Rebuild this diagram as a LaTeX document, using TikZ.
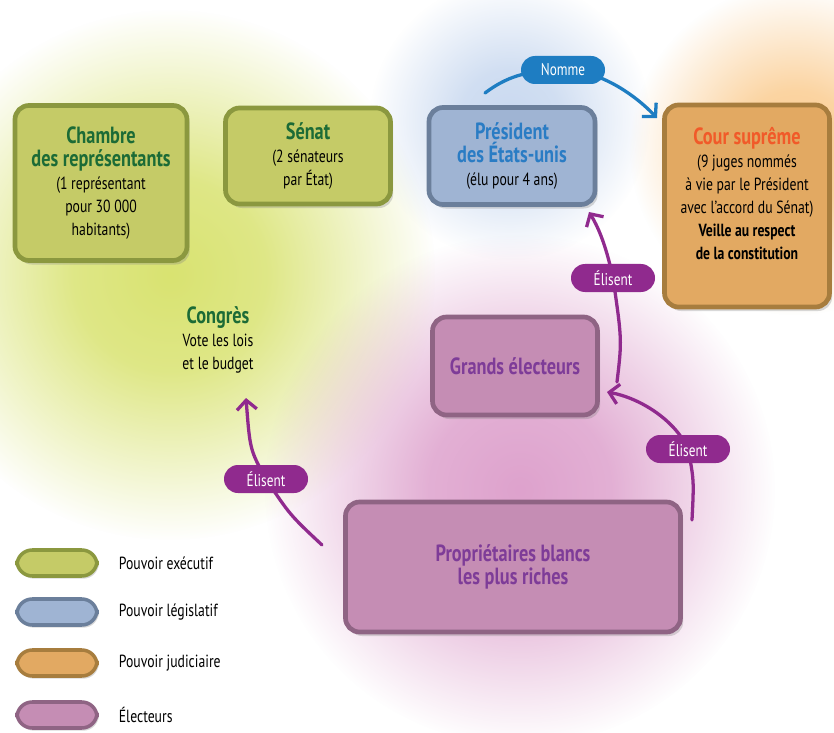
\documentclass[tikz,border=0pt]{standalone}
\usepackage{fontspec}
\setmainfont{PT Sans}[FakeStretch=0.78]
\usetikzlibrary{arrows.meta,positioning,shadows,fadings,shapes.misc}

\definecolor{vertface}{HTML}{C5CB67}
\definecolor{vertbord}{HTML}{8B983F}
\definecolor{verttitre}{HTML}{1C6B36}
\definecolor{bleuface}{HTML}{9FB4D3}
\definecolor{bleubord}{HTML}{6B7F9B}
\definecolor{bleutitre}{HTML}{2A7CC4}
\definecolor{orface}{HTML}{E2A962}
\definecolor{orbord}{HTML}{A77D3E}
\definecolor{ortitre}{HTML}{F15A29}
\definecolor{roseface}{HTML}{C58DB4}
\definecolor{rosebord}{HTML}{8F6484}
\definecolor{violet}{HTML}{7E3C98}
\definecolor{pilule}{HTML}{902A8E}
\definecolor{pilbleu}{HTML}{1E7DC2}
\definecolor{halovert}{HTML}{D9E371}
\definecolor{halobleu}{HTML}{C9D9F0}
\definecolor{haloor}{HTML}{FBCD92}
\definecolor{halorose}{HTML}{DEA2CD}

% halo: plein au centre, fondu vers le bord
\pgfdeclareradialshading{halosh}{\pgfpointorigin}{color(0bp)=(white); color(9bp)=(white!85!black);
  color(25bp)=(black); color(50bp)=(black)}
\pgfdeclarefading{halo}{\pgfuseshading{halosh}}

\newcommand\titre[2]{\textcolor{#1}{\fontsize{20}{20.5}\selectfont\bfseries #2}}

\begin{document}
\begin{tikzpicture}[
  x=0.03cm,y=-0.03cm,
  font=\fontsize{15}{19.5}\selectfont,
  box/.style={draw,rounded corners=12pt,line width=4pt,align=center,inner sep=0pt,
    drop shadow={shadow xshift=.8mm,shadow yshift=-1.2mm,opacity=.3}},
  vert/.style={box,fill=vertface,draw=vertbord},
  bleu/.style={box,fill=bleuface,draw=bleubord},
  orange/.style={box,fill=orface,draw=orbord},
  rose/.style={box,fill=roseface,draw=rosebord},
  legende/.style={rounded corners=13pt,line width=3pt,minimum width=2.4cm,minimum height=.78cm,
    drop shadow={shadow xshift=.5mm,shadow yshift=-.8mm,opacity=.3}},
  pill/.style={rounded rectangle,fill=pilule,text=white,minimum width=2.52cm,minimum height=.84cm,
    inner sep=0pt,font=\fontsize{14.5}{16}\selectfont},
  fleche/.style={draw=pilule,line width=2.8pt,line cap=round,-{Straight Barb[length=8pt,width=17pt]}}
]
\useasboundingbox (0,0) rectangle (834,733);
\clip (0,0) rectangle (834,733);
\fill[white] (0,0) rectangle (834,733);

% halos
\fill[halovert,path fading=halo] (170,275) circle (265);
\fill[halorose,path fading=halo] (520,490) circle (255);
\fill[halobleu,path fading=halo] (510,120) circle (140);
\fill[haloor,path fading=halo] (795,150) circle (165);

% boites
\node[vert,minimum width=5.16cm,minimum height=4.65cm] (chambre) at (101,183)
  {\titre{verttitre}{Chambre}\\\titre{verttitre}{des représentants}\\(1 représentant\\pour 30~000\\habitants)};
\node[vert,minimum width=4.95cm,minimum height=2.88cm] (senat) at (308,156)
  {\titre{verttitre}{Sénat}\\(2 sénateurs\\par État)};
\node[bleu,minimum width=4.98cm,minimum height=2.91cm] (pres) at (512,156)
  {\titre{bleutitre}{Président}\\\titre{bleutitre}{des États-unis}\\(élu pour 4 ans)};
\node[orange,minimum width=4.95cm,minimum height=6.06cm] (cour) at (747,206)
  {\titre{ortitre}{Cour suprême}\\(9 juges nommés\\à vie par le Président\\avec l'accord du Sénat)\\
   \textbf{Veille au respect}\\\textbf{de la constitution}\\[2pt]\mbox{}};
\node[rose,minimum width=4.95cm,minimum height=2.94cm] (grands) at (515,366)
  {\titre{violet}{Grands électeurs}};
\node[rose,minimum width=10.05cm,minimum height=3.9cm] (proprio) at (513,567)
  {\titre{violet}{Propriétaires blancs}\\\titre{violet}{les plus riches}};
\node[align=center] (congres) at (218,340)
  {\titre{verttitre}{Congrès}\\Vote les lois\\et le budget};

% fleches
\coordinate (nomme) at (563,70);
\coordinate (elis1) at (613,278);
\coordinate (elis2) at (688,449);
\coordinate (elis3) at (266,479);
\draw[fleche,draw=pilbleu] (485,93) .. controls (505,78) and (525,70) .. (nomme)
  .. controls (600,70) and (635,95) .. (657,118);
\draw[fleche] (617,382) .. controls (622,340) .. (elis1)
  .. controls (607,250) and (600,230) .. (589,212);
\draw[fleche] (692,520) .. controls (694,480) .. (elis2)
  .. controls (675,420) and (640,398) .. (607,392);
\draw[fleche] (322,545) .. controls (290,515) .. (elis3)
  .. controls (250,450) .. (246,398);
\node[pill,fill=pilbleu] (lnomme) at (nomme) {Nomme};
\node[pill] (lelis1) at (elis1) {Élisent};
\node[pill] (lelis2) at (elis2) {Élisent};
\node[pill] (lelis3) at (elis3) {Élisent};

% legende
\node[legende,fill=vertface,draw=vertbord] (lexe) at (57,563) {};
\node[legende,fill=bleuface,draw=bleubord] (lleg) at (57,612) {};
\node[legende,fill=orface,draw=orbord] (ljud) at (57,663) {};
\node[legende,fill=roseface,draw=rosebord] (lelec) at (57,715) {};
\node[right=.48cm of lexe] {Pouvoir exécutif};
\node[right=.48cm of lleg] {Pouvoir législatif};
\node[right=.48cm of ljud] {Pouvoir judiciaire};
\node[right=.48cm of lelec] {Électeurs};
\end{tikzpicture}
\end{document}
